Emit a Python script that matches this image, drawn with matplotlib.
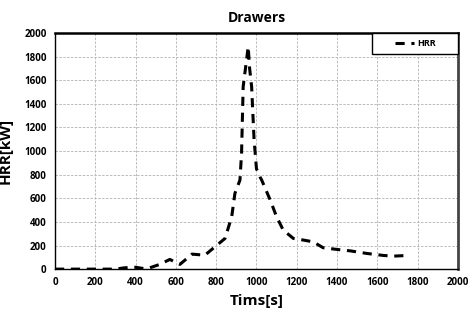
import matplotlib
matplotlib.use('Agg')
import matplotlib.pyplot as plt
from matplotlib.patches import Rectangle

# datos
tiempo = [0, 100, 200, 300, 340, 390, 440, 470, 520, 570, 620, 680, 744, 794, 844,
          877, 893, 918, 926, 934, 959, 966, 976, 988, 1000, 1017, 1026, 1067,
          1100, 1133, 1183, 1233, 1282, 1331, 1398, 1464, 1547, 1629, 1679, 1754]
hrr = [0, 0, 0, 0, 10, 18, 5, 11, 40, 82, 40, 127, 118, 189, 260,
       443, 641, 754, 980, 1545, 1884, 1700, 1545, 1100, 850, 782, 754, 590,
       443, 330, 260, 246, 231, 181, 167, 155, 133, 116, 110, 116]

plt.rcParams['font.family'] = ['Open Sans', 'DejaVu Sans']

fig = plt.figure(figsize=(4.68, 3.2), dpi=100)
ax = fig.add_axes([0.1175, 0.159, 0.861, 0.738])

ax.plot(tiempo, hrr, color='black', linestyle=(0, (3, 2.2)), linewidth=2.2, label='HRR')

ax.set_xlim(0, 2000)
ax.set_ylim(0, 2000)
ax.set_xticks(range(0, 2001, 200))
ax.set_yticks(range(0, 2001, 200))
ax.grid(True, color='#bbbbbb', linestyle=(0, (2.5, 1.5)), linewidth=0.7)
ax.tick_params(length=0, labelsize=7, pad=6)
for lbl in ax.get_xticklabels() + ax.get_yticklabels():
    lbl.set_fontweight('bold')

ax.spines['left'].set_linewidth(1.0)
ax.spines['bottom'].set_linewidth(1.0)
ax.spines['top'].set_linewidth(1.8)
ax.spines['right'].set_linewidth(2.0)
ax.spines['right'].set_color('#444444')

ax.set_title('Drawers', fontsize=10, fontweight='bold', pad=8)
ax.set_xlabel('Tims[s]', fontsize=11, fontweight='bold', labelpad=4)
ax.set_ylabel('HRR[kW]', fontsize=11, fontweight='bold', labelpad=8)

# caja de la leyenda (mas ancha que la de matplotlib)
ax.add_patch(Rectangle((0.787, 0.911), 0.213, 0.089, transform=ax.transAxes,
                       facecolor='white', edgecolor='black', linewidth=1.0,
                       zorder=4, clip_on=False))
leg = ax.legend(loc='center right', bbox_to_anchor=(0.945, 0.955),
                frameon=False, borderaxespad=0, borderpad=0,
                handlelength=2.1, handletextpad=0.4,
                prop={'weight': 'bold', 'size': 6.5})
leg.set_zorder(5)

plt.savefig('out.png', dpi=100)
